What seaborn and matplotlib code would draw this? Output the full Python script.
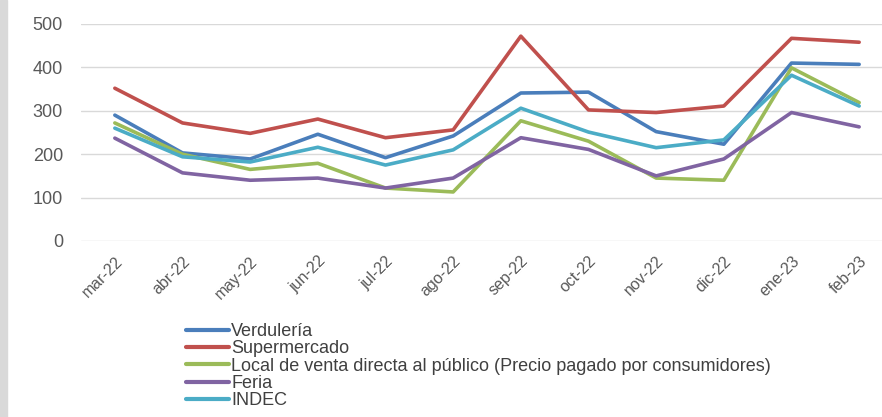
import matplotlib
matplotlib.use("Agg")
import matplotlib.pyplot as plt
import matplotlib.patches as mpatches
import pandas as pd
import seaborn as sns

meses = ["mar-22", "abr-22", "may-22", "jun-22", "jul-22", "ago-22",
         "sep-22", "oct-22", "nov-22", "dic-22", "ene-23", "feb-23"]

verduleria = [290, 203, 189, 246, 192, 242, 341, 343, 252, 223, 410, 407]
supermercado = [352, 272, 248, 281, 238, 256, 472, 302, 296, 311, 467, 458]
local_directo = [272, 200, 165, 179, 122, 113, 277, 230, 145, 140, 399, 319]
feria = [237, 157, 140, 145, 122, 145, 238, 211, 150, 189, 296, 263]
indec = [260, 194, 182, 216, 175, 210, 306, 251, 215, 233, 382, 311]

series = {
    "Verdulería": verduleria,
    "Supermercado": supermercado,
    "Local de venta directa al público (Precio pagado por consumidores)": local_directo,
    "Feria": feria,
    "INDEC": indec,
}
colores = ["#4A7EBB", "#C0504D", "#9BBB59", "#8064A2", "#4BACC6"]

# long format for seaborn
filas = []
for nombre, vals in series.items():
    for i, v in enumerate(vals):
        filas.append({"mes": i, "serie": nombre, "valor": v})
df = pd.DataFrame(filas)

sns.set_style("white")
plt.rcParams["font.family"] = ["Liberation Sans", "DejaVu Sans"]

fig = plt.figure(figsize=(8.82, 4.17), dpi=100)
fig.patches.append(mpatches.Rectangle((0, 0), 7 / 882, 1, transform=fig.transFigure,
                                      color="#D9D9D9", zorder=0))
ax = fig.add_axes([81 / 882, 1 - 241 / 417, 812 / 882, 217 / 417])

sns.lineplot(data=df, x="mes", y="valor", hue="serie", palette=colores,
             linewidth=2.6, ax=ax, legend=True)

ax.set_xlim(-0.5, 11.5)
ax.set_ylim(0, 500)
ax.set_yticks([0, 100, 200, 300, 400, 500])
ax.set_xticks(range(len(meses)))
ax.set_xticklabels(meses, rotation=45, ha="right", rotation_mode="anchor",
                   fontsize=11.5, color="#595959")
ax.tick_params(axis="y", labelsize=13, labelcolor="#595959", length=0, pad=13)
ax.tick_params(axis="x", length=0, pad=9)
ax.grid(axis="y", color="#D9D9D9", linewidth=1)
ax.set_axisbelow(True)
for s in ax.spines.values():
    s.set_visible(False)
ax.set_xlabel("")
ax.set_ylabel("")

handles, labels = ax.get_legend_handles_labels()
leg = ax.legend(handles, labels, loc="upper left", bbox_to_anchor=(177 / 882, 1 - 314 / 417),
                bbox_transform=fig.transFigure, frameon=False,
                handlelength=2.4, handletextpad=0.1, labelspacing=0.02, borderpad=0,
                prop={"family": "Liberation Sans", "size": 13})
for t in leg.get_texts():
    t.set_color("#404040")
for l in leg.get_lines():
    l.set_linewidth(3)

fig.savefig("out.png", dpi=100)
